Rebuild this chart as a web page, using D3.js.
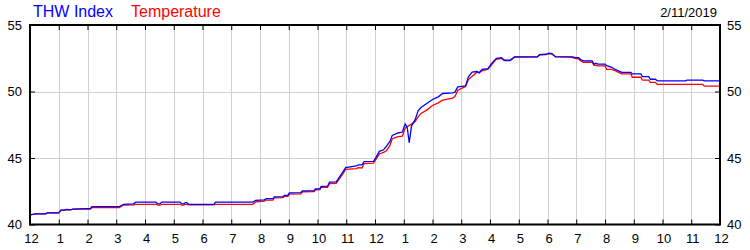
<!DOCTYPE html>
<html><head><meta charset="utf-8">
<script src="https://cdn.jsdelivr.net/npm/d3@7"></script>
<style>html,body{margin:0;padding:0;background:#fff}svg{display:block}</style>
</head><body>
<svg id="c" width="750" height="250"></svg>
<script>
// hours since midnight
const hours = [0.00,0.20,0.55,0.60,1.00,1.08,1.20,1.28,1.40,1.50,1.95,2.10,2.15,3.10,3.20,3.25,3.60,3.68,4.38,4.45,4.52,4.58,5.22,5.28,5.35,5.40,5.45,5.52,6.40,6.45,7.75,7.85,8.15,8.22,8.45,8.50,8.80,8.85,8.97,9.02,9.42,9.48,9.88,9.93,10.08,10.13,10.35,10.42,10.65,10.85,10.98,11.35,11.42,11.55,11.62,11.95,12.05,12.15,12.30,12.40,12.52,12.60,12.80,12.95,13.05,13.12,13.19,13.27,13.40,13.50,13.60,13.80,14.00,14.20,14.35,14.70,14.78,14.88,15.15,15.25,15.38,15.55,15.62,15.72,15.93,16.05,16.22,16.40,16.50,16.70,16.85,17.65,17.72,17.95,18.05,18.15,18.28,18.85,18.95,19.08,19.15,19.25,19.55,19.62,19.68,19.75,20.00,20.06,20.23,20.35,20.58,20.90,20.95,21.25,21.30,21.52,21.58,21.75,21.82,22.80,22.85,23.40,23.45,24.00];
const thwIndex = [40.72,40.80,40.80,40.87,40.87,41.08,41.08,41.14,41.10,41.15,41.19,41.19,41.35,41.35,41.45,41.52,41.55,41.68,41.68,41.55,41.55,41.68,41.68,41.55,41.55,41.65,41.65,41.52,41.52,41.68,41.68,41.82,41.85,41.94,41.94,42.08,42.10,42.19,42.19,42.38,42.40,42.53,42.55,42.67,42.68,42.87,42.88,43.18,43.20,43.85,44.28,44.40,44.48,44.48,44.72,44.74,45.10,45.50,45.62,45.90,46.25,46.70,46.88,46.95,47.55,47.30,46.15,47.40,47.90,48.55,48.80,49.10,49.40,49.60,49.85,49.90,49.95,50.35,50.42,51.10,51.45,51.50,51.40,51.67,51.72,52.10,52.50,52.55,52.35,52.35,52.60,52.60,52.78,52.80,52.88,52.85,52.62,52.60,52.57,52.55,52.40,52.30,52.30,52.06,52.12,52.06,52.06,51.94,51.82,51.67,51.44,51.44,51.32,51.32,51.12,51.12,50.92,50.92,50.80,50.80,50.85,50.85,50.80,50.80];
const temperature = [40.72,40.80,40.80,40.87,40.87,41.08,41.08,41.12,41.10,41.15,41.15,41.15,41.27,41.27,41.40,41.45,41.48,41.52,41.52,41.45,41.45,41.52,41.52,41.45,41.45,41.52,41.52,41.48,41.48,41.52,41.52,41.70,41.75,41.84,41.84,42.00,42.02,42.12,42.12,42.28,42.30,42.46,42.48,42.60,42.62,42.80,42.80,43.08,43.10,43.72,44.15,44.20,44.28,44.25,44.58,44.62,44.95,45.30,45.42,45.55,45.95,46.45,46.60,46.65,47.25,47.35,47.45,47.55,47.75,48.10,48.35,48.60,48.95,49.15,49.35,49.50,49.62,50.10,50.38,50.90,51.15,51.45,51.40,51.55,51.67,52.00,52.42,52.50,52.32,52.32,52.58,52.60,52.75,52.78,52.85,52.82,52.60,52.58,52.50,52.45,52.32,52.20,52.20,51.96,51.96,51.92,51.92,51.67,51.67,51.57,51.32,51.32,51.07,51.07,50.86,50.86,50.69,50.69,50.54,50.54,50.54,50.54,50.40,50.40];
const xTicks = d3.range(0, 25);
const xTickLabels = ["12","1","2","3","4","5","6","7","8","9","10","11","12","1","2","3","4","5","6","7","8","9","10","11","12"];
const yTicks = [40,45,50,55];
const legendNames = ["THW Index","Temperature"];
const dateLabel = "2/11/2019";

const svg = d3.select("#c");
const FONT = "'Liberation Sans', Arial, sans-serif";
const L = 30, R = 720, T = 25, B = 224.5;
const x = d3.scaleLinear().domain([0,24]).range([L,R]);
const y = d3.scaleLinear().domain([40,55]).range([B,T]);

const g = svg.append("g");
// grid
g.selectAll("line.vg").data(xTicks.slice(1,-1)).join("line")
  .attr("x1", d=>Math.round(x(d))+0.5).attr("x2", d=>Math.round(x(d))+0.5)
  .attr("y1", T).attr("y2", B).attr("stroke","#d0d0d0").attr("stroke-width",1);
g.selectAll("line.hg").data([45,50]).join("line")
  .attr("x1", L).attr("x2", R)
  .attr("y1", d=>Math.round(y(d))+0.5).attr("y2", d=>Math.round(y(d))+0.5)
  .attr("stroke","#d0d0d0").attr("stroke-width",1);

// data lines
const line = (vals) => d3.line().x((d,i)=>x(hours[i])).y(d=>y(d))(vals);
g.append("path").attr("d", line(temperature)).attr("fill","none").attr("stroke","#ff0000").attr("stroke-width",1.3);
g.append("path").attr("d", line(thwIndex)).attr("fill","none").attr("stroke","#0000ff").attr("stroke-width",1.3);

// axes via d3
const xb = d3.axisBottom(x).tickValues(xTicks).tickSize(-5).tickPadding(9).tickFormat((d,i)=>xTickLabels[i]);
const xt = d3.axisTop(x).tickValues(xTicks).tickSize(-5).tickFormat("");
const yl = d3.axisLeft(y).tickValues(yTicks).tickSize(-5).tickPadding(8);
const yr = d3.axisRight(y).tickValues(yTicks).tickSize(-5).tickPadding(7);
function style(sel){
  sel.select(".domain").remove();
  sel.selectAll(".tick line").attr("stroke","#000").attr("stroke-width",1);
  sel.selectAll(".tick text").attr("fill","#000").style("font-family",FONT).style("font-size","13px");
}
const gxb = svg.append("g").attr("transform",`translate(0,${B})`).call(xb).call(style);
gxb.selectAll(".tick text").attr("dx","1");
svg.append("g").attr("transform",`translate(0,${T})`).call(xt).call(style);
svg.append("g").attr("transform",`translate(${L},0)`).call(yl).call(style);
svg.append("g").attr("transform",`translate(${R},0)`).call(yr).call(style);

// frame
svg.append("rect").attr("x",L).attr("y",T).attr("width",R-L).attr("height",B-T)
  .attr("fill","none").attr("stroke","#000").attr("stroke-width",2);

// legend
const colors = ["#0000ff","#ff0000"];
const lx = [33,131];
svg.selectAll("text.leg").data(legendNames).join("text")
  .attr("x",(d,i)=>lx[i]).attr("y",17).text(d=>d)
  .attr("fill",(d,i)=>colors[i]).style("font-family",FONT).style("font-size","16px");
svg.append("text").attr("x",717).attr("y",17).attr("text-anchor","end").text(dateLabel)
  .attr("fill","#000").style("font-family",FONT).style("font-size","13px");
</script>
</body></html>
